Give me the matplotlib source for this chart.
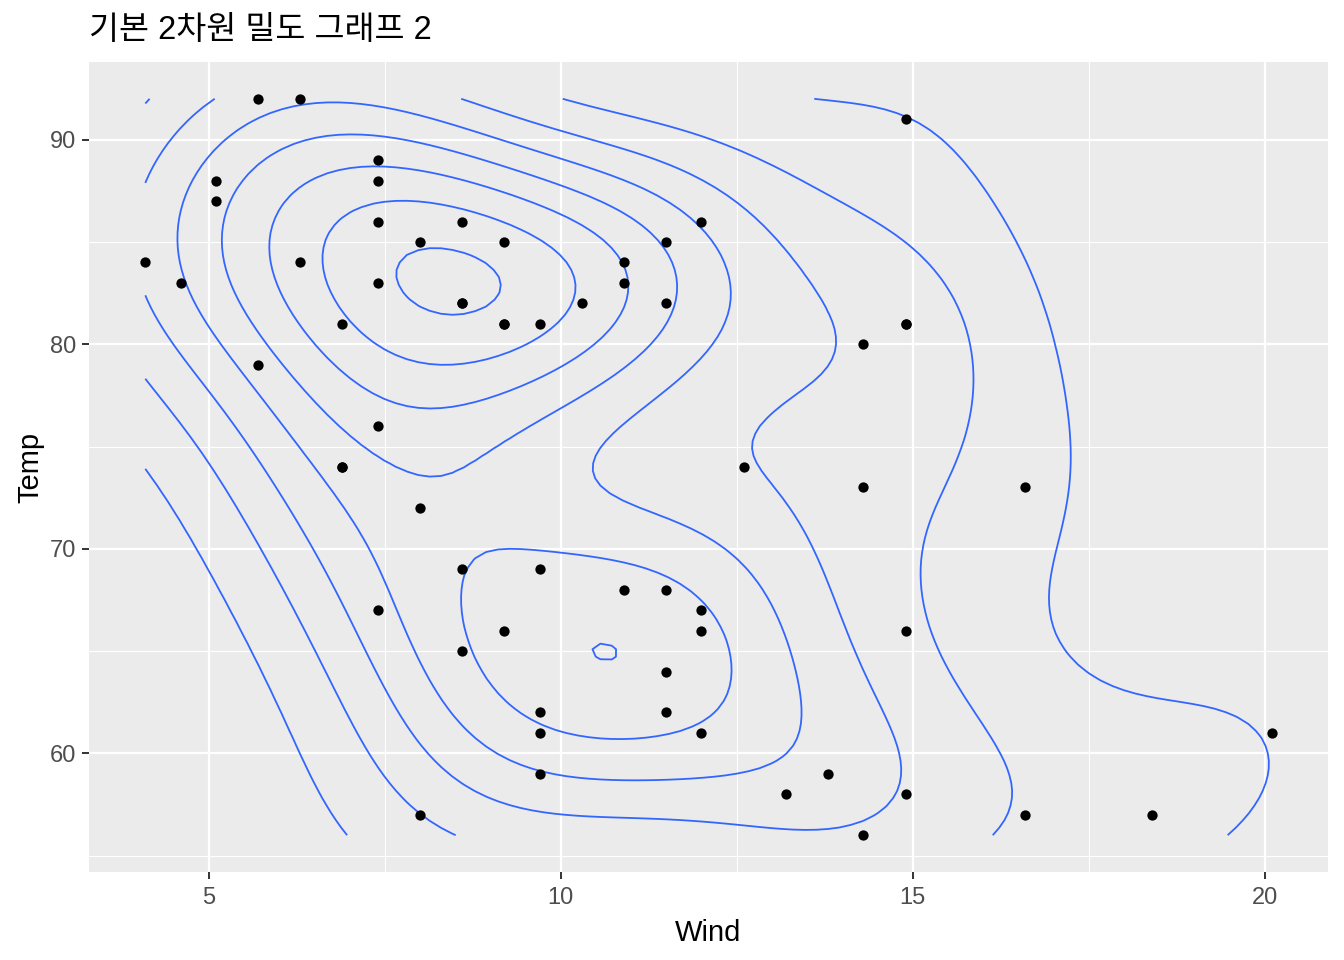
import numpy as np
import matplotlib
matplotlib.use('Agg')
import matplotlib.pyplot as plt

plt.rcParams['font.family'] = ['Liberation Sans', 'Noto Sans CJK KR', 'DejaVu Sans']

# airquality, May and July (Wind, Temp)
wind_may = [7.4, 8.0, 12.6, 11.5, 14.3, 14.9, 8.6, 13.8, 20.1, 8.6,
            6.9, 9.7, 9.2, 10.9, 13.2, 11.5, 12.0, 18.4, 11.5, 9.7,
            9.7, 16.6, 9.7, 12.0, 16.6, 14.9, 8.0, 12.0, 14.9, 5.7, 7.4]
temp_may = [67, 72, 74, 62, 56, 66, 65, 59, 61, 69,
            74, 69, 66, 68, 58, 64, 66, 57, 68, 62,
            59, 73, 61, 61, 57, 58, 57, 67, 81, 79, 76]
wind_jul = [4.1, 9.2, 9.2, 10.9, 4.6, 10.9, 5.1, 6.3, 5.7, 7.4,
            8.6, 14.3, 14.9, 14.9, 14.3, 6.9, 10.3, 6.3, 5.1, 11.5,
            6.9, 9.7, 11.5, 8.6, 8.0, 8.6, 12.0, 7.4, 7.4, 7.4, 9.2]
temp_jul = [84, 85, 81, 84, 83, 83, 88, 92, 92, 89,
            82, 73, 81, 91, 80, 81, 82, 84, 87, 85,
            74, 81, 82, 86, 85, 82, 86, 88, 86, 83, 81]

wind = wind_may + wind_jul
temp = temp_may + temp_jul

title = '기본 2차원 밀도 그래프 2'
xlabel = 'Wind'
ylabel = 'Temp'


def bandwidth_nrd(v):
    v = np.asarray(v, float)
    q1, q3 = np.percentile(v, [25, 75])
    h = (q3 - q1) / 1.34
    return 4 * 1.06 * min(np.std(v, ddof=1), h) * len(v) ** (-0.2)


def kde2d(x, y, n=100):
    # same as MASS::kde2d with bandwidth.nrd, like stat_density_2d
    x = np.asarray(x, float)
    y = np.asarray(y, float)
    hx = bandwidth_nrd(x) / 4
    hy = bandwidth_nrd(y) / 4
    gx = np.linspace(x.min(), x.max(), n)
    gy = np.linspace(y.min(), y.max(), n)
    ax_ = (gx[:, None] - x[None, :]) / hx
    ay_ = (gy[:, None] - y[None, :]) / hy
    dx = np.exp(-0.5 * ax_ ** 2) / np.sqrt(2 * np.pi)
    dy = np.exp(-0.5 * ay_ ** 2) / np.sqrt(2 * np.pi)
    z = dx @ dy.T / (len(x) * hx * hy)
    return gx, gy, z


def pretty(lo, hi, n=10):
    cell = (hi - lo) / n
    U = 10 ** np.floor(np.log10(cell))
    unit = U
    h = 1.5
    h5 = 0.5 + 1.5 * h
    if 2 * U - cell < h * (cell - unit):
        unit = 2 * U
        if 5 * U - cell < h5 * (cell - unit):
            unit = 5 * U
            if 10 * U - cell < h * (cell - unit):
                unit = 10 * U
    ns = np.floor(lo / unit + 1e-7)
    nu = np.ceil(hi / unit - 1e-7)
    return np.arange(ns, nu + 1) * unit


gx, gy, z = kde2d(wind, temp)
levels = pretty(z.min(), z.max(), 10)

fig = plt.figure(figsize=(13.44, 9.6), dpi=100)
ax = fig.add_axes([89 / 1344, 1 - 872 / 960, (1328 - 89) / 1344, (872 - 62) / 960])
ax.set_facecolor('#EBEBEB')
for s in ax.spines.values():
    s.set_visible(False)

xr = max(wind) - min(wind)
yr = max(temp) - min(temp)
ax.set_xlim(min(wind) - 0.05 * xr, max(wind) + 0.05 * xr)
ax.set_ylim(min(temp) - 0.05 * yr, max(temp) + 0.05 * yr)

ax.set_xticks([5, 10, 15, 20])
ax.set_yticks([60, 70, 80, 90])
ax.set_xticks([7.5, 12.5, 17.5], minor=True)
ax.set_yticks([55, 65, 75, 85], minor=True)
ax.grid(True, which='major', color='white', linewidth=1.6)
ax.grid(True, which='minor', color='white', linewidth=0.8)
ax.set_axisbelow(True)
ax.tick_params(which='major', length=5, width=1.4, color='#333333',
               labelcolor='#4D4D4D', labelsize=17)
ax.tick_params(axis='x', which='major', pad=6)
ax.tick_params(axis='y', which='major', pad=4)
ax.tick_params(which='minor', length=0)

ax.contour(gx, gy, z.T, levels=levels, colors='#3366FF', linewidths=1.3)
ax.scatter(wind, temp, s=55, color='black', zorder=3, linewidths=0)

ax.set_xlabel(xlabel, fontsize=21, labelpad=7)
ax.set_ylabel(ylabel, fontsize=21, labelpad=4)
fig.text(89 / 1344, 1 - 31 / 960, title, fontsize=23.5, ha='left', va='center')

fig.savefig('out.png', dpi=100)
